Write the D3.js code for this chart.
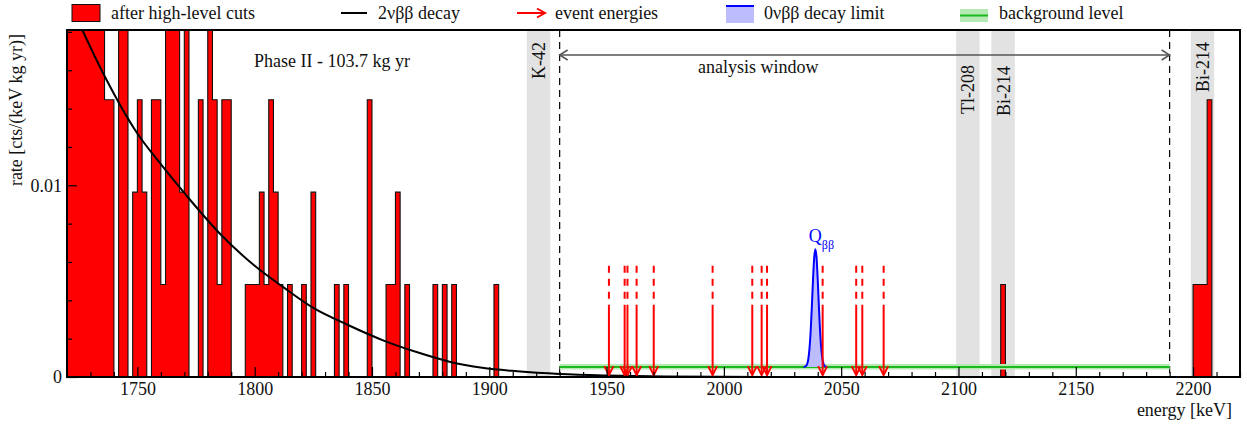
<!DOCTYPE html>
<html>
<head>
<meta charset="utf-8">
<script src="https://cdn.jsdelivr.net/npm/d3@7"></script>
<style>
  html, body { margin: 0; padding: 0; background: #fff; }
  svg { display: block; font-family: "Liberation Serif", "Times New Roman", serif; }
</style>
</head>
<body>
<svg id="chart" width="1247" height="427"></svg>
<script>
// ---- data -------------------------------------------------------------
// energy spectrum after high-level cuts, 2 keV bins (lower edge in keV, counts)
const binWidth = 2;        // keV
const exposure = 103.7;    // kg yr
const binLow = [
  1720, 1722, 1724, 1726, 1728, 1730, 1732, 1734, 1736, 1738,
  1742, 1744, 1748, 1750, 1752, 1756, 1758, 1760, 1762, 1764,
  1766, 1768, 1770, 1776, 1780, 1782, 1784, 1786, 1788, 1796,
  1798, 1800, 1802, 1804, 1806, 1808, 1810, 1814, 1820, 1824,
  1834, 1838, 1848, 1856, 1858, 1860, 1864, 1876, 1880, 1884,
  1902, 2118, 2200, 2202, 2204, 2206
];
const binCounts = [
  4, 4, 4, 4, 4, 4, 4, 4, 3, 3,
  4, 4, 2, 3, 2, 3, 3, 1, 4, 4,
  4, 2, 4, 3, 4, 3, 1, 3, 3, 1,
  1, 1, 2, 1, 3, 2, 1, 1, 1, 2,
  1, 1, 3, 1, 1, 2, 1, 1, 1, 1,
  1, 1, 1, 1, 1, 3
];

// 2nbb decay model curve (energy keV, rate cts/(keV kg yr))
const curveE = [1725, 1736, 1750, 1760, 1770, 1785, 1800, 1812, 1825, 1840,
                1855, 1869, 1883, 1897, 1912, 1930, 1950, 1975, 2000, 2039];
const curveRate = [0.0185, 0.0157, 0.0127, 0.0111, 0.0096, 0.0075, 0.0058, 0.0047, 0.0036, 0.0027,
                   0.0019, 0.0013, 0.0008, 0.00048, 0.0003, 0.00016, 0.00008, 0.00003, 0.00001, 0];

// events inside the analysis window (keV)
const eventE = [1951.0, 1957.7, 1958.9, 1962.8, 1970.1, 1995.2, 2012.1,
                2016.1, 2018.4, 2042.1, 2056.4, 2059.0, 2068.1];

// 0nbb decay limit peak at Q_bb on top of the background
const peakE = [2034, 2035, 2035.5, 2036, 2036.5, 2037, 2037.5, 2038, 2038.5, 2039,
               2039.5, 2040, 2040.5, 2041, 2041.5, 2042, 2042.5, 2043, 2044];
const peakRate = [0.00052, 0.00057, 0.00068, 0.00095, 0.00149, 0.0024, 0.00368, 0.00509, 0.00623, 0.00667,
                  0.00623, 0.00509, 0.00368, 0.0024, 0.00149, 0.00095, 0.00068, 0.00057, 0.00052];

// background index with its uncertainty band
const bgLevel = 5.2e-4;
const bgLow = 3.9e-4;
const bgHigh = 6.8e-4;
const windowRange = [1930, 2190];

// excluded gamma lines (centre keV) and their labels
const bandCenters = [1921, 2104, 2119, 2204];
const bandLabels = ["K-42", "Tl-208", "Bi-214", "Bi-214"];
const bandHalfWidth = 5;

// axis ticks
const xMajorTicks = [1750, 1800, 1850, 1900, 1950, 2000, 2050, 2100, 2150, 2200];
const yMajorTicks = [0, 0.01];

// legend entries
const legendLabels = ["after high-level cuts", "2\u03bd\u03b2\u03b2 decay", "event energies",
                      "0\u03bd\u03b2\u03b2 decay limit", "background level"];

// ---- layout -----------------------------------------------------------
const svg = d3.select("#chart");
const L = 67, R = 1240, T = 30, B = 377;
const x = d3.scaleLinear().domain([1720, 2220]).range([L, R]);
const y = d3.scaleLinear().domain([0, 0.0181]).range([B, T]);

svg.append("defs").append("clipPath").attr("id", "plotClip")
  .append("rect").attr("x", L).attr("y", T).attr("width", R - L).attr("height", B - T);

const plot = svg.append("g").attr("clip-path", "url(#plotClip)");

// excluded line regions
plot.selectAll("rect.band").data(bandCenters).join("rect")
  .attr("class", "band")
  .attr("x", d => x(d - bandHalfWidth))
  .attr("width", d => x(d + bandHalfWidth) - x(d - bandHalfWidth))
  .attr("y", T).attr("height", B - T)
  .attr("fill", "#e2e2e2");

// histogram
const nBins = Math.round((x.domain()[1] - x.domain()[0]) / binWidth);
const counts = new Array(nBins).fill(0);
binLow.forEach((e, i) => { counts[Math.round((e - x.domain()[0]) / binWidth)] = binCounts[i]; });
const histPts = counts.map((c, i) => ({ e: x.domain()[0] + i * binWidth, r: c / (binWidth * exposure) }));
histPts.push({ e: x.domain()[1], r: histPts[histPts.length - 1].r });

plot.append("path").datum(histPts)
  .attr("fill", "#ff0000")
  .attr("stroke", "#111")
  .attr("stroke-width", 1.1)
  .attr("d", d3.area().curve(d3.curveStepAfter)
    .x(d => x(d.e)).y0(y(0)).y1(d => y(d.r)));

// 2nbb curve
plot.append("path").datum(curveE.map((e, i) => [e, curveRate[i]]))
  .attr("fill", "none").attr("stroke", "#000").attr("stroke-width", 2)
  .attr("d", d3.line().curve(d3.curveMonotoneX).x(d => x(d[0])).y(d => y(d[1])));

// analysis window boundaries
plot.selectAll("line.win").data(windowRange).join("line")
  .attr("class", "win")
  .attr("x1", d => x(d)).attr("x2", d => x(d))
  .attr("y1", T).attr("y2", B)
  .attr("stroke", "#000").attr("stroke-width", 1.2)
  .attr("stroke-dasharray", "7,5");

// background band and level
plot.append("rect")
  .attr("x", x(windowRange[0])).attr("width", x(windowRange[1]) - x(windowRange[0]))
  .attr("y", y(bgHigh)).attr("height", y(bgLow) - y(bgHigh))
  .attr("fill", "#b5eab5");
plot.append("line")
  .attr("x1", x(windowRange[0])).attr("x2", x(windowRange[1]))
  .attr("y1", y(bgLevel)).attr("y2", y(bgLevel))
  .attr("stroke", "#1cb81c").attr("stroke-width", 2);

// 0nbb limit peak
const peakPts = peakE.map((e, i) => [e, peakRate[i]]);
plot.append("path").datum(peakPts)
  .attr("fill", "#bcbcff")
  .attr("d", d3.area().curve(d3.curveMonotoneX)
    .x(d => x(d[0])).y0(y(bgLevel)).y1(d => y(d[1])));
plot.append("path").datum(peakPts)
  .attr("fill", "none").attr("stroke", "#0000ff").attr("stroke-width", 2)
  .attr("d", d3.line().curve(d3.curveMonotoneX).x(d => x(d[0])).y(d => y(d[1])));

// event arrows: dashed stem, solid shaft, open head
const arrowTop = 0.0058, arrowMid = 0.0037, arrowTip = 0.0001;
const ev = plot.selectAll("g.ev").data(eventE).join("g").attr("class", "ev")
  .attr("stroke", "#ff0000").attr("stroke-width", 2).attr("fill", "none");
ev.append("line")
  .attr("x1", d => x(d)).attr("x2", d => x(d))
  .attr("y1", y(arrowTop)).attr("y2", y(arrowMid))
  .attr("stroke-dasharray", "7,6");
ev.append("line")
  .attr("x1", d => x(d)).attr("x2", d => x(d))
  .attr("y1", y(arrowMid)).attr("y2", y(arrowTip));
ev.append("path")
  .attr("d", d => `M${x(d) - 4.5},${y(arrowTip) - 9}L${x(d)},${y(arrowTip)}L${x(d) + 4.5},${y(arrowTip) - 9}`);

// Q_bb label
const qLabel = svg.append("text")
  .attr("x", x(2036.2)).attr("y", 242)
  .attr("fill", "#0000ff").attr("font-size", 18);
qLabel.append("tspan").text("Q");
qLabel.append("tspan").attr("font-size", 12).attr("dy", 7).text("\u03b2\u03b2");

// analysis window double arrow
const aw = svg.append("g").attr("stroke", "#555").attr("stroke-width", 1.5).attr("fill", "none");
const awY = 55;
aw.append("line").attr("x1", x(windowRange[0])).attr("x2", x(windowRange[1])).attr("y1", awY).attr("y2", awY);
aw.append("path").attr("d", `M${x(windowRange[0]) + 8},${awY - 5}L${x(windowRange[0])},${awY}L${x(windowRange[0]) + 8},${awY + 5}`);
aw.append("path").attr("d", `M${x(windowRange[1]) - 8},${awY - 5}L${x(windowRange[1])},${awY}L${x(windowRange[1]) - 8},${awY + 5}`);
svg.append("text").attr("x", 698).attr("y", 73).attr("font-size", 18).attr("fill", "#111")
  .text("analysis window");

// exposure label
svg.append("text").attr("x", 254).attr("y", 67).attr("font-size", 18).attr("fill", "#111")
  .text("Phase II - 103.7 kg yr");

// band labels (vertical)
const labelTops = [42, 65, 66, 42];
svg.selectAll("text.bandlab").data(bandCenters).join("text")
  .attr("class", "bandlab")
  .attr("transform", (d, i) => `translate(${x(d) + 6.5},${labelTops[i]}) rotate(-90)`)
  .attr("text-anchor", "end")
  .attr("font-size", 18).attr("fill", "#111")
  .text((d, i) => bandLabels[i]);

// ---- axes -------------------------------------------------------------
const xMinor = d3.range(1720, 2221, 10).filter(v => !xMajorTicks.includes(v));
svg.append("g").attr("transform", `translate(0,${B})`)
  .call(d3.axisBottom(x).tickValues(xMinor).tickSize(-5).tickFormat(""))
  .call(g => g.select(".domain").remove());
svg.append("g").attr("transform", `translate(0,${B})`)
  .call(d3.axisBottom(x).tickValues(xMajorTicks).tickSize(-10).tickPadding(5).tickFormat(d3.format("d")))
  .call(g => g.select(".domain").remove())
  .call(g => g.selectAll("text").attr("font-size", 18).attr("font-family", "Liberation Serif, serif").attr("fill", "#111"));

const yMinor = d3.range(0.002, 0.0181, 0.002).filter(v => Math.abs(v - 0.01) > 1e-9);
svg.append("g").attr("transform", `translate(${L},0)`)
  .call(d3.axisLeft(y).tickValues(yMinor).tickSize(-5).tickFormat(""))
  .call(g => g.select(".domain").remove());
svg.append("g").attr("transform", `translate(${L},0)`)
  .call(d3.axisLeft(y).tickValues(yMajorTicks).tickSize(-10).tickPadding(5).tickFormat(d => d === 0 ? "0" : d3.format(".2f")(d)))
  .call(g => g.select(".domain").remove())
  .call(g => g.selectAll("text").attr("font-size", 18).attr("font-family", "Liberation Serif, serif").attr("fill", "#111"));

svg.selectAll(".tick line").attr("stroke", "#000").attr("stroke-width", 1.2);

// frame
svg.append("rect").attr("x", L).attr("y", T).attr("width", R - L).attr("height", B - T)
  .attr("fill", "none").attr("stroke", "#000").attr("stroke-width", 2);

// axis titles
svg.append("text").attr("x", 1232).attr("y", 416).attr("text-anchor", "end")
  .attr("font-size", 18).attr("fill", "#111").text("energy [keV]");
svg.append("text").attr("transform", "translate(22,34) rotate(-90)").attr("text-anchor", "end")
  .attr("font-size", 18).attr("fill", "#111").text("rate [cts/(keV kg yr)]");

// ---- legend -----------------------------------------------------------
const lg = svg.append("g");
const textY = 19;
// histogram swatch
lg.append("rect").attr("x", 72).attr("y", 4.5).attr("width", 28).attr("height", 17)
  .attr("fill", "#ff0000").attr("stroke", "#111").attr("stroke-width", 1);
// curve swatch
lg.append("line").attr("x1", 341).attr("x2", 367).attr("y1", 13).attr("y2", 13)
  .attr("stroke", "#000").attr("stroke-width", 2);
// arrow swatch
lg.append("line").attr("x1", 517).attr("x2", 545).attr("y1", 13).attr("y2", 13)
  .attr("stroke", "#ff0000").attr("stroke-width", 2);
lg.append("path").attr("d", "M537,8.5L545,13L537,17.5")
  .attr("stroke", "#ff0000").attr("stroke-width", 2).attr("fill", "none");
// peak swatch
lg.append("rect").attr("x", 726).attr("y", 5).attr("width", 28).attr("height", 18).attr("fill", "#bcbcff");
lg.append("line").attr("x1", 726).attr("x2", 754).attr("y1", 6).attr("y2", 6)
  .attr("stroke", "#0000ff").attr("stroke-width", 2);
// background swatch
lg.append("rect").attr("x", 960).attr("y", 9).attr("width", 28).attr("height", 13).attr("fill", "#b5eab5");
lg.append("line").attr("x1", 960).attr("x2", 988).attr("y1", 15.5).attr("y2", 15.5)
  .attr("stroke", "#1cb81c").attr("stroke-width", 2);

const legendX = [111, 378, 555, 764, 999];
lg.selectAll("text").data(legendLabels).join("text")
  .attr("x", (d, i) => legendX[i]).attr("y", textY)
  .attr("font-size", 18).attr("fill", "#111")
  .text(d => d);
</script>
</body>
</html>
